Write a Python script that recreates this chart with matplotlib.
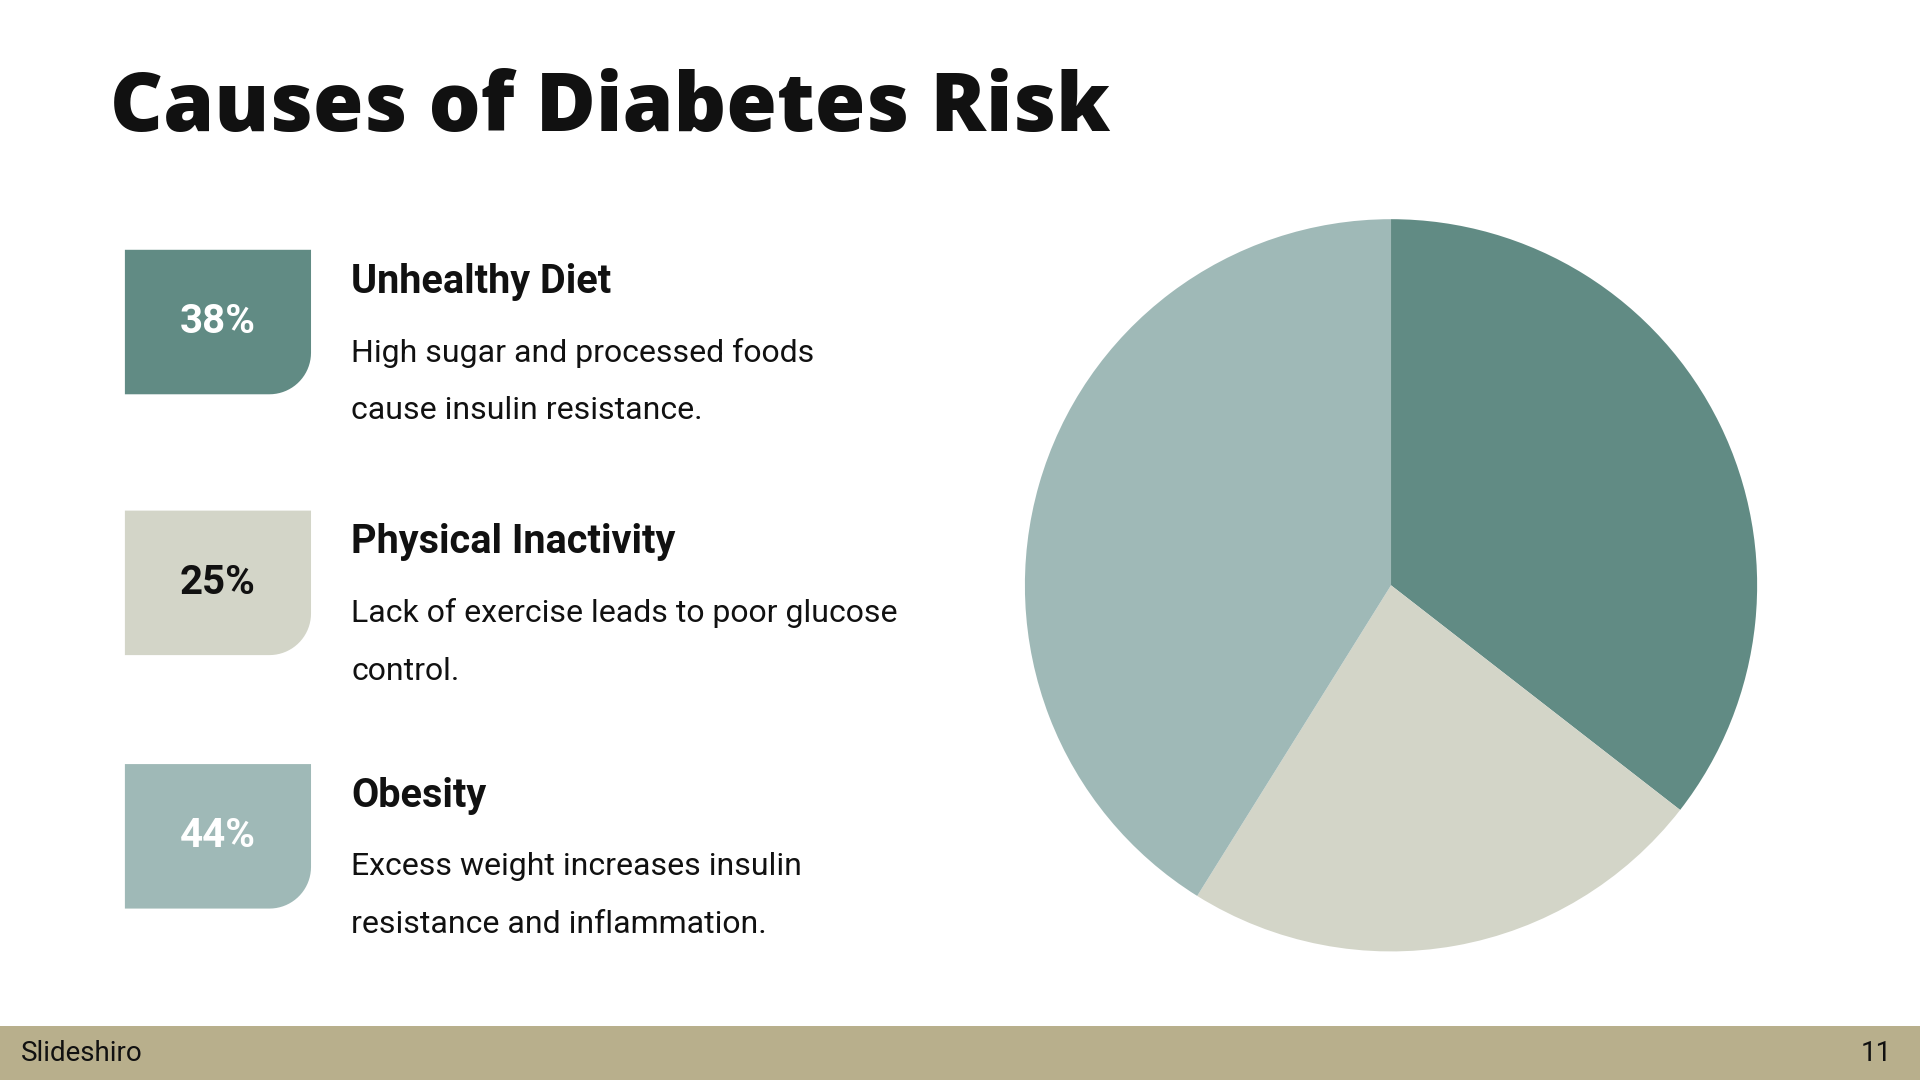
import matplotlib
matplotlib.use("Agg")
import matplotlib.pyplot as plt
import numpy as np
from matplotlib.patches import Polygon, Rectangle

title = "Causes of Diabetes Risk"
categories = ["Unhealthy Diet", "Physical Inactivity", "Obesity"]
values = [38, 25, 44]
descriptions = [["High sugar and processed foods", "cause insulin resistance."],
                ["Lack of exercise leads to poor glucose", "control."],
                ["Excess weight increases insulin", "resistance and inflammation."]]
colors = ["#618B84", "#D3D5C8", "#9FB9B7"]
label_colors = ["white", "#111111", "white"]
footer_left = "Slideshiro"
footer_right = "11"

W, H = 1568, 882
fig = plt.figure(figsize=(19.2, 10.8), dpi=100)
ax = fig.add_axes([0, 0, 1, 1])
ax.set_xlim(0, W); ax.set_ylim(H, 0); ax.axis("off")

ax.text(90, 90, title, fontsize=59, fontweight="heavy", family="Open Sans", va="center", ha="left", color="#111111")

def box(x0, y0, w, h, r, color):
    pts = [(x0, y0), (x0 + w, y0), (x0 + w, y0 + h - r)]
    t = np.linspace(0, np.pi / 2, 20)
    cx, cy = x0 + w - r, y0 + h - r
    pts += [(cx + r * np.cos(a), cy + r * np.sin(a)) for a in t]
    pts += [(x0, y0 + h)]
    ax.add_patch(Polygon(pts, closed=True, color=color, lw=0))

tops = [204, 417, 624]
for i, (cat, v, d) in enumerate(zip(categories, values, descriptions)):
    y = tops[i]
    box(102, y, 152, 118, 34, colors[i])
    ax.text(178, y + 59, f"{v}%", fontsize=29, fontweight="bold", family="Roboto",
            color=label_colors[i], ha="center", va="center")
    ax.text(287, y + 26, cat, fontsize=28.5, fontweight="bold", family="Roboto",
            color="#111111", ha="left", va="center")
    for j, line in enumerate(d):
        ax.text(287, y + 84 + j * 47, line, fontsize=23, family="Roboto",
                color="#111111", ha="left", va="center")

ax.add_patch(Rectangle((0, 838), W, 44, color="#B8AF8C", lw=0))
ax.text(17, 860, footer_left, fontsize=20, family="Roboto", va="center", ha="left", color="#111111")
ax.text(1545, 860, footer_right, fontsize=20, family="Roboto", va="center", ha="right", color="#111111")

cx, cy, r = 1136, 478, 299
pax = fig.add_axes([(cx - r) / W, 1 - (cy + r) / H, 2 * r / W, 2 * r / H])
pax.pie(values, colors=colors, startangle=90, counterclock=False, radius=1,
        wedgeprops=dict(linewidth=0))
pax.set_xlim(-1, 1); pax.set_ylim(-1, 1); pax.set_aspect("auto"); pax.axis("off")

fig.savefig("out.png", dpi=100)
